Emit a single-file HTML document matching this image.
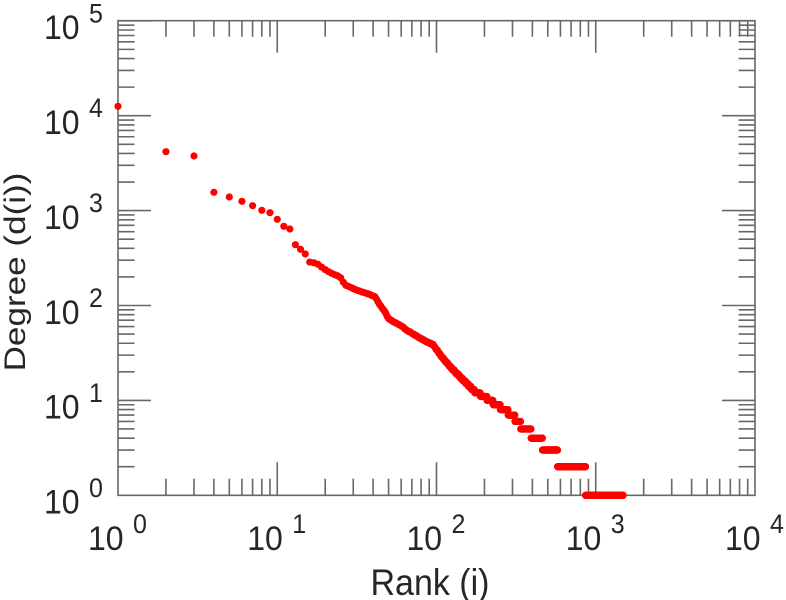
<!DOCTYPE html>
<html>
<head>
<meta charset="utf-8">
<style>
html,body{margin:0;padding:0;background:#fff;}
svg{display:block;}
text{font-family:"Liberation Sans",Arial,sans-serif;fill:#262626;}
</style>
</head>
<body>
<svg id="c" width="786" height="600" viewBox="0 0 786 600" xmlns="http://www.w3.org/2000/svg">
<g id="axes" stroke="#686868" stroke-width="1.6" fill="none"></g>
<g id="labels"></g>
<g id="pts" fill="#ff0000"></g>
<text transform="translate(430,595) scale(1,1.09)" font-size="34" text-anchor="middle">Rank (i)</text>
<text transform="translate(25,272) scale(1,1.17) rotate(-90)" font-size="30" text-anchor="middle">Degree (d(i))</text>
</svg>
<script>
(function(){
var NS="http://www.w3.org/2000/svg";
var X0=118,DX=159.25,Y0=495.3,DY=94.9,XR=755,YT=20.7;
function xp(r){return X0+DX*Math.log10(r);}
function yp(d){return Y0-DY*Math.log10(d);}
var axes=document.getElementById("axes");
var path="M"+X0+" "+YT+"H"+XR+"V"+Y0+"H"+X0+"Z";
var k,dec,x,y;
for(dec=0;dec<=4;dec++){
  x=X0+DX*dec;
  path+="M"+x+" "+Y0+"V"+(Y0-33)+"M"+x+" "+YT+"V"+(YT+32);
  if(dec<4){for(k=2;k<=9;k++){x=X0+DX*(dec+Math.log10(k));
    path+="M"+x.toFixed(2)+" "+Y0+"V"+(Y0-16.5)+"M"+x.toFixed(2)+" "+YT+"V"+(YT+16);}}
}
for(dec=0;dec<=5;dec++){
  y=Y0-DY*dec;
  path+="M"+X0+" "+y.toFixed(2)+"H"+(X0+33)+"M"+XR+" "+y.toFixed(2)+"H"+(XR-33);
  if(dec<5){for(k=2;k<=9;k++){y=Y0-DY*(dec+Math.log10(k));
    path+="M"+X0+" "+y.toFixed(2)+"H"+(X0+16.5)+"M"+XR+" "+y.toFixed(2)+"H"+(XR-16.5);}}
}
var p=document.createElementNS(NS,"path");p.setAttribute("d",path);axes.appendChild(p);
var labels=document.getElementById("labels");
function txt(s,x,y,fs){var t=document.createElementNS(NS,"text");
  t.setAttribute("transform","translate("+x+","+y+") scale(1,1.08)");
  t.setAttribute("font-size",fs);t.textContent=s;labels.appendChild(t);}
for(dec=0;dec<=4;dec++){x=X0+DX*dec;txt("10",x-30,550,32);txt(String(dec),x+15,533,25);}
for(dec=0;dec<=5;dec++){y=Y0-DY*dec;txt("10",44,y+18.3,32);txt(String(dec),89,y+1.5,25);}
var pts=document.getElementById("pts");
function dot(x,y){var c=document.createElementNS(NS,"circle");
  c.setAttribute("cx",x.toFixed(2));c.setAttribute("cy",y.toFixed(2));c.setAttribute("r","3.6");pts.appendChild(c);}
var ex=[106.3,151.7,156,192.3,197,201.3,205.7,210.3,212.7,219.3,226.3,229,244.7,249.3,254];
var cp=[[309.8,262],[316.7,263.3],[323.3,268.3],[330,272.7],[340,276.7],[345,285],[356.7,290],[368.3,294],[375,296.7],[380,305],[385,311.7],[388.3,318.3],[393.3,321.7],[400,325],[406.7,330],[420,338.3],[433.3,345],[441.7,356.7],[453.3,370],[465,381.7],[475,391.7],[486.7,398.3],[496.7,405],[506.7,411],[515,418.3],[520.5,425],[531,433.3],[542.5,443.7],[557.5,457.5],[585.5,478.6],[623,495]];
function interp(x){
  if(x<=cp[0][0])return cp[0][1];
  for(var i=1;i<cp.length;i++){if(x<=cp[i][0]){var a=cp[i-1],b=cp[i];return a[1]+(b[1]-a[1])*(x-a[0])/(b[0]-a[0]);}}
  return cp[cp.length-1][1];
}
for(var r=1;r<=1483;r++){
  x=xp(r);
  if(r<=15){y=ex[r-1];}
  else{var yi=interp(x);var d=Math.round(Math.pow(10,(Y0-yi)/DY));if(d<1)d=1;y=yp(d);}
  dot(x,y);
}
})();
</script>
</body>
</html>
